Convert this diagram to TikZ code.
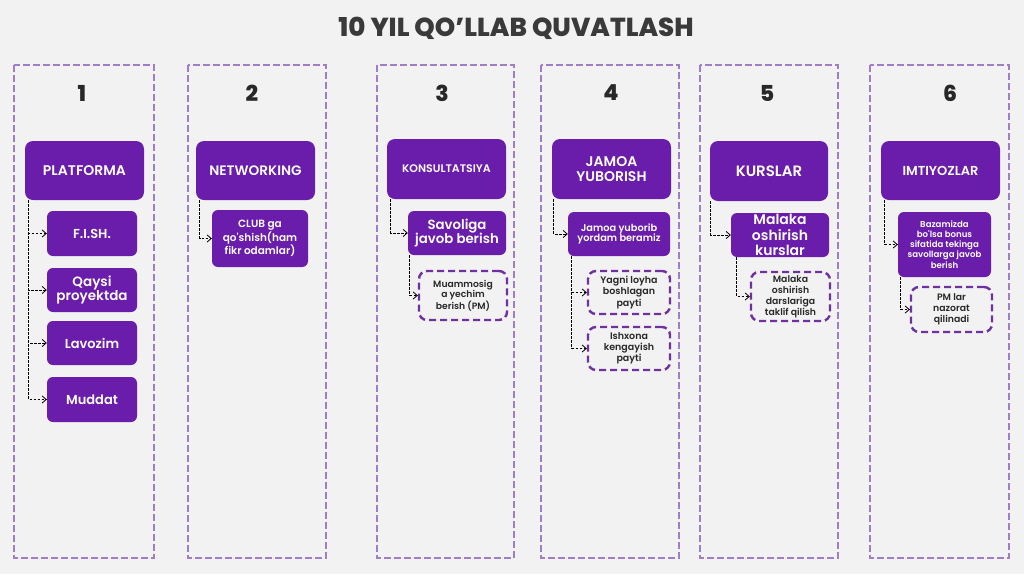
\documentclass[tikz,border=0pt]{standalone}
\usepackage{fontspec}
\setmainfont{Poppins}
\newfontfamily\semi{Poppins SemiBold}
\newfontfamily\xbold{Poppins ExtraBold}
\usetikzlibrary{arrows.meta,calc}
\definecolor{bg}{RGB}{242,242,242}
\definecolor{pur}{RGB}{106,28,170}
\definecolor{colline}{RGB}{160,125,200}
\definecolor{dpur}{RGB}{112,48,160}
\definecolor{txt}{RGB}{40,40,40}
\definecolor{ttl}{RGB}{58,58,58}
\newcommand{\fs}[1]{\semi\fontsize{#1}{\dimexpr #1pt*110/100\relax}\selectfont}
\newcommand{\fsl}[1]{\semi\fontsize{#1}{\dimexpr #1pt*118/100\relax}\selectfont}
\begin{document}
\begin{tikzpicture}[x=1pt,y=-1pt,
 col/.style={draw=colline, line width=2pt, dash pattern=on 7pt off 3pt},
 mainbox/.style={fill=pur, rounded corners=8pt, text=white, align=center, inner sep=0pt},
 subbox/.style={fill=pur, rounded corners=6pt, text=white, align=center, inner sep=0pt},
 dbox/.style={draw=dpur, line width=2.4pt, dash pattern=on 7pt off 4pt, rounded corners=8pt, fill=bg, text=txt, align=center, inner sep=0pt},
 num/.style={font=\xbold\fontsize{22}{22}\selectfont, text=txt},
 conn/.style={draw=black, dash pattern=on 2.5pt off 1.5pt, line width=0.8pt, -{Straight Barb[length=4pt,width=7pt]}},
]
\fill[bg] (0,0) rectangle (1024,574);
\useasboundingbox (0,0) rectangle (1024,574);

\node[font=\xbold\fontsize{26}{26}\selectfont, text=ttl] (title) at (516,28) {10 YIL QO’LLAB QUVATLASH};

% columns
\draw[col] (14,65) rectangle (154,558);
\draw[col] (188,65) rectangle (326,558);
\draw[col] (377,65) rectangle (514,558);
\draw[col] (541,65) rectangle (679,558);
\draw[col] (700,65) rectangle (838,558);
\draw[col] (870,65) rectangle (1009,558);

% numbers
\node[num] (n1) at (82,93) {1};
\node[num] (n2) at (252,93) {2};
\node[num] (n3) at (442,93) {3};
\node[num] (n4) at (611,93) {4};
\node[num] (n5) at (767,93) {5};
\node[num] (n6) at (950,93) {6};

% main boxes
\node[mainbox, minimum width=119pt, minimum height=59pt, font=\fs{14}] (m1) at (84.5,170.5) {PLATFORMA};
\node[mainbox, minimum width=119pt, minimum height=59pt, font=\fs{13.7}] (m2) at (255.5,170.5) {NETWORKING};
\node[mainbox, minimum width=119pt, minimum height=60pt, font=\fs{11}] (m3) at (446.5,169) {KONSULTATSIYA};
\node[mainbox, minimum width=119pt, minimum height=60pt, font=\fs{14}] (m4) at (611.5,169) {JAMOA\\YUBORISH};
\node[mainbox, minimum width=118pt, minimum height=60pt, font=\fs{15}] (m5) at (769,171) {KURSLAR};
\node[mainbox, minimum width=119pt, minimum height=59pt, font=\fs{13}] (m6) at (940.5,170.5) {IMTIYOZLAR};

% column 1 children
\node[subbox, minimum width=90pt, minimum height=45pt, font=\fs{13}] (c11) at (92,233.5) {F.I.SH.};
\node[subbox, minimum width=90pt, minimum height=44pt, font=\fs{13.5}] (c12) at (92,290) {Qaysi\\proyektda};
\node[subbox, minimum width=90pt, minimum height=44pt, font=\fs{13}] (c13) at (92,343) {Lavozim};
\node[subbox, minimum width=90pt, minimum height=45pt, font=\fs{13}] (c14) at (92,399.5) {Muddat};

% column 2
\node[subbox, minimum width=96pt, minimum height=57pt, font=\fs{10.5}] (c2) at (260,238.5) {CLUB ga\\qo'shish(ham\\fikr odamlar)};

% column 3
\node[subbox, minimum width=98pt, minimum height=44pt, font=\fs{13.3}] (c3) at (457,233) {Savoliga\\javob berish};
\node[dbox, minimum width=88pt, minimum height=49pt, font=\fs{9.2}] (d3) at (463,295.5) {Muammosig\\a yechim\\berish (PM)};

% column 4
\node[subbox, minimum width=102pt, minimum height=44pt, font=\fs{9.8}] (c4) at (619,234) {Jamoa yuborib\\yordam beramiz};
\node[dbox, minimum width=82pt, minimum height=43pt, font=\fsl{9.5}] (d41) at (629,292.5) {Yagni loyha\\boshlagan\\payti};
\node[dbox, minimum width=82pt, minimum height=43pt, font=\fsl{9.5}] (d42) at (629,348.5) {Ishxona\\kengayish\\payti};

% column 5
\node[subbox, minimum width=98pt, minimum height=44pt, font=\fs{14}] (c5) at (780,235) {Malaka\\oshirish\\kurslar};
\node[dbox, minimum width=79pt, minimum height=49pt, font=\fsl{9.3}] (d5) at (790.5,296.5) {Malaka\\oshirish\\darslariga\\taklif qilish};

% column 6
\node[subbox, minimum width=93pt, minimum height=65pt, font=\fsl{8.6}] (c6) at (944.5,244.5) {Bazamizda\\bo'lsa bonus\\sifatida tekinga\\savollarga javob\\berish};
\node[dbox, minimum width=81pt, minimum height=45pt, font=\fsl{9.3}] (d6) at (951.5,309.5) {PM lar\\nazorat\\qilinadi};

% connectors
\draw[conn] ($(m1.south west)+(4,0)$) |- (c11.west);
\draw[conn] ($(m1.south west)+(4,0)$) |- (c12.west);
\draw[conn] ($(m1.south west)+(4,0)$) |- (c13.west);
\draw[conn] ($(m1.south west)+(4,0)$) |- (c14.west);
\draw[conn] ($(m2.south west)+(4,0)$) |- (c2.west);
\draw[conn] ($(m3.south west)+(4,0)$) |- (c3.west);
\draw[conn] ($(c3.south west)+(2,0)$) |- (d3.west);
\draw[conn] ($(m4.south west)+(2,0)$) |- (c4.west);
\draw[conn] ($(c4.south west)+(4,0)$) |- (d41.west);
\draw[conn] ($(c4.south west)+(4,0)$) |- (d42.west);
\draw[conn] ($(m5.south west)+(1,0)$) |- (c5.west);
\draw[conn] ($(c5.south west)+(6,0)$) |- (d5.west);
\draw[conn] ($(m6.south west)+(4,0)$) |- (c6.west);
\draw[conn] ($(c6.south west)+(3,0)$) |- (d6.west);
\end{tikzpicture}
\end{document}
